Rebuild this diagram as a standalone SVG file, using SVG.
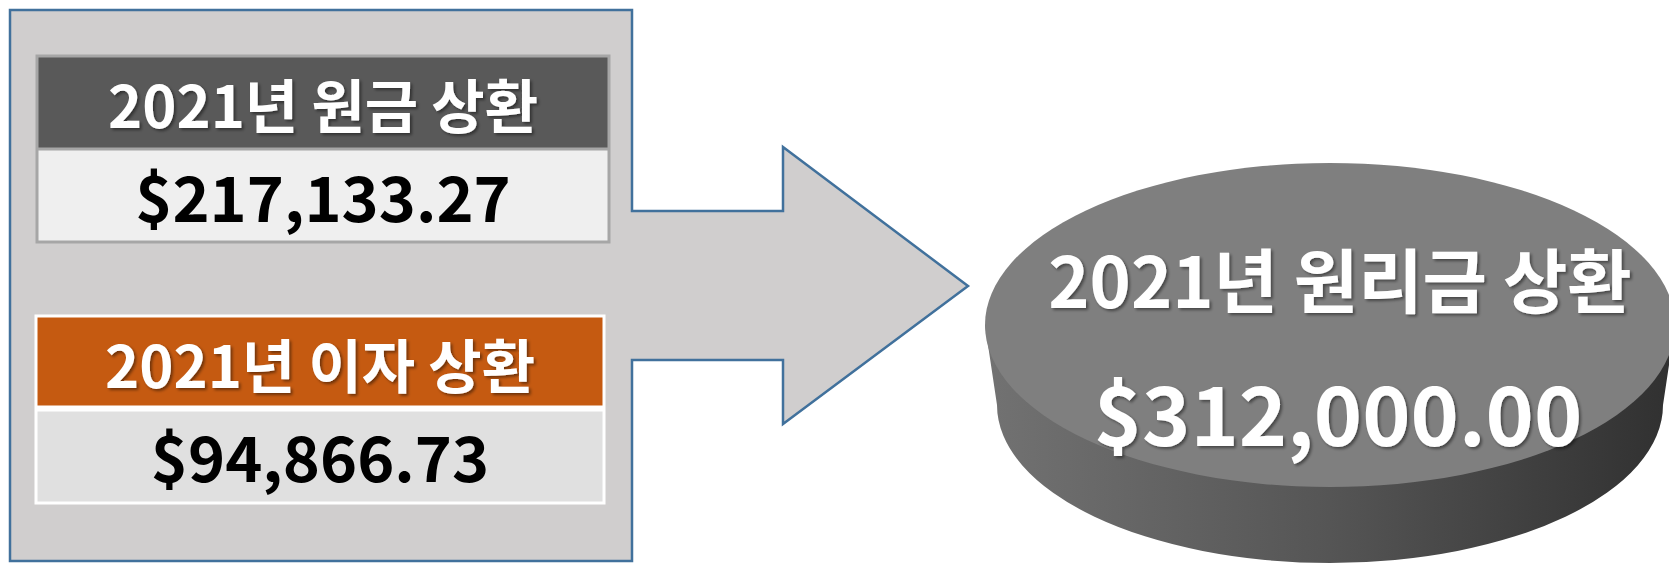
<svg xmlns="http://www.w3.org/2000/svg" width="1669" height="564" viewBox="0 0 1669 564">
<defs>
<linearGradient id="side" x1="985" y1="0" x2="1675" y2="0" gradientUnits="userSpaceOnUse">
<stop offset="0" stop-color="#727272"/>
<stop offset="0.5" stop-color="#555555"/>
<stop offset="1" stop-color="#303030"/>
</linearGradient>
<filter id="sh" x="-10%" y="-20%" width="130%" height="150%">
<feDropShadow dx="2" dy="2" stdDeviation="1.5" flood-color="#000" flood-opacity="0.45"/>
</filter>
</defs>
<style>
.t{font-family:"Noto Sans CJK KR","Noto Sans",sans-serif;font-weight:bold;text-anchor:middle}
.w{fill:#ffffff;filter:url(#sh)}
.b{fill:#000000}
</style>
<g id="connectors">
<polygon id="panel-arrow" points="10,10 632,10 632,211 783,211 783,147 968,286 783,424 783,360 632,360 632,561 10,561" fill="#d0cece" stroke="#41719c" stroke-width="2.5"/>
</g>
<g id="principal">
<rect x="37" y="56" width="572" height="93" fill="#595959"/>
<rect x="37" y="149" width="572" height="93" fill="#efefef"/>
<rect x="37" y="56" width="572" height="186" fill="none" stroke="#a6a6a6" stroke-width="3"/>
<line x1="37" y1="149" x2="609" y2="149" stroke="#a6a6a6" stroke-width="3"/>
<text class="t w" x="323" y="128" font-size="58">2021년 원금 상환</text>
<text class="t b" x="323" y="222" font-size="63">$217,133.27</text>
</g>
<g id="interest">
<rect x="36" y="316" width="568" height="91" fill="#c55a11"/>
<rect x="36" y="410" width="568" height="93" fill="#e0e0e0"/>
<rect x="36" y="316" width="568" height="187" fill="none" stroke="#ffffff" stroke-width="3"/>
<line x1="36" y1="408.5" x2="604" y2="408.5" stroke="#ffffff" stroke-width="6"/>
<text class="t w" x="320" y="388" font-size="58">2021년 이자 상환</text>
<text class="t b" x="320" y="482" font-size="63">$94,866.73</text>
</g>
<g id="total">
<path d="M985 325 L997 405 A333 158 0 0 0 1663 405 L1675 325 Z" fill="url(#side)"/>
<ellipse cx="1330" cy="325" rx="345" ry="162" fill="#7f7f7f"/>
<text class="t w" x="1340" y="308" font-size="70">2021년 원리금 상환</text>
<text class="t w" x="1338" y="446" font-size="82">$312,000.00</text>
</g>
</svg>
